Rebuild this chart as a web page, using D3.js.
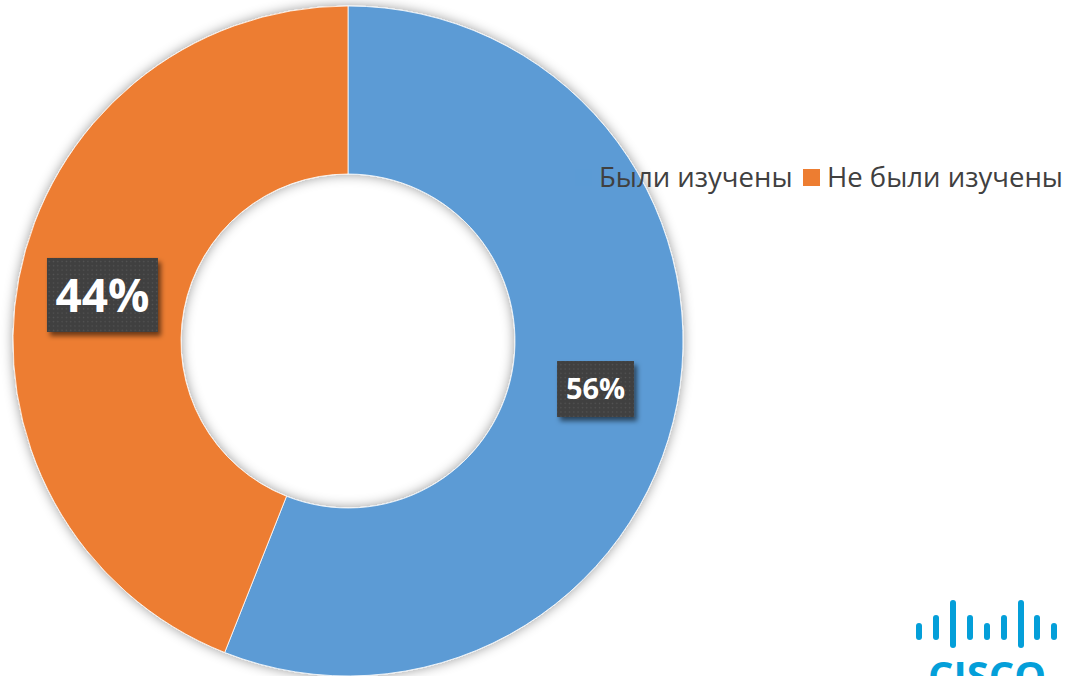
<!DOCTYPE html>
<html>
<head>
<meta charset="utf-8">
<script src="https://cdn.jsdelivr.net/npm/d3@7"></script>
<style>
  body { margin: 0; background: #fff; }
  svg { display: block; }
</style>
</head>
<body>
<div id="chart"></div>
<script>
// data
const categories = ["Были изучены", "Не были изучены"];
const values = [56, 44];
const colors = ["#5b9bd5", "#ed7d31"];
const labelSizes = [29, 46]; // the 44% label is drawn bigger in the original
const boxW = [77, 111], boxH = [56, 74];

const width = 1069, height = 676;
const cx = 348, cy = 341;
const outerR = 335, innerR = 167;

const svg = d3.select("#chart").append("svg")
    .attr("width", width)
    .attr("height", height)
    .attr("viewBox", [0, 0, width, height]);

const defs = svg.append("defs");

// soft grey glow round the ring
const glow = defs.append("filter").attr("id", "glow")
    .attr("x", "-10%").attr("y", "-10%").attr("width", "120%").attr("height", "120%");
glow.append("feDropShadow")
    .attr("dx", 0).attr("dy", 0).attr("stdDeviation", 6)
    .attr("flood-color", "#000").attr("flood-opacity", 0.4);

// dark dotted fill for the labels
const pat = defs.append("pattern").attr("id", "dots")
    .attr("patternUnits", "userSpaceOnUse").attr("width", 4.3).attr("height", 4.3);
pat.append("rect").attr("width", 4.3).attr("height", 4.3).attr("fill", "#3f3f3f");
pat.append("rect").attr("x", 1.5).attr("y", 1.5).attr("width", 1.4).attr("height", 1.4).attr("fill", "#555");

const boxShadow = defs.append("filter").attr("id", "boxshadow")
    .attr("x", "-20%").attr("y", "-20%").attr("width", "150%").attr("height", "160%");
boxShadow.append("feDropShadow")
    .attr("dx", 3).attr("dy", 4).attr("stdDeviation", 2.5)
    .attr("flood-color", "#000").attr("flood-opacity", 0.55);

const pie = d3.pie().sort(null).value(d => d)(values);
const arc = d3.arc().innerRadius(innerR).outerRadius(outerR);
const labelArc = d3.arc().innerRadius((innerR + outerR) / 2).outerRadius((innerR + outerR) / 2);

const g = svg.append("g").attr("transform", `translate(${cx},${cy})`);

g.append("g").attr("filter", "url(#glow)")
  .selectAll("path")
  .data(pie)
  .join("path")
    .attr("d", arc)
    .attr("fill", (d, i) => colors[i])
    .attr("stroke", "#fff")
    .attr("stroke-width", 0.8);

// legend, drawn over the ring like the original
const legend = svg.append("g")
    .attr("font-family", "'Open Sans', sans-serif")
    .attr("font-size", 27.5)
    .attr("fill", "#404040");

const legendX = [575, 803];
categories.forEach((c, i) => {
  legend.append("rect")
      .attr("x", legendX[i]).attr("y", 169)
      .attr("width", 17).attr("height", 17)
      .attr("fill", colors[i]);
  legend.append("text")
      .attr("x", legendX[i] + 24).attr("y", 187)
      .text(c);
});

// percent labels
const labels = g.append("g")
    .attr("font-family", "'Open Sans', sans-serif")
    .attr("font-weight", "bold")
    .attr("fill", "#fff")
    .attr("text-anchor", "middle");

pie.forEach((d, i) => {
  const [x, y] = labelArc.centroid(d);
  labels.append("rect")
      .attr("x", x - boxW[i] / 2 + 1)
      .attr("y", y - boxH[i] / 2 + 1)
      .attr("width", boxW[i])
      .attr("height", boxH[i])
      .attr("fill", "url(#dots)")
      .attr("filter", "url(#boxshadow)");
  labels.append("text")
      .attr("x", x + 1).attr("y", y + 1)
      .attr("dy", "0.36em")
      .attr("font-size", labelSizes[i])
      .text(values[i] + "%");
});

// cisco mark, bottom right
const barX = [919, 936, 953, 970, 987, 1004, 1021, 1037, 1054];
const barTop = [623, 615, 600, 615, 623, 615, 600, 615, 623];
const barBottom = [640, 640, 648, 640, 640, 640, 648, 640, 640];
const logo = svg.append("g").attr("fill", "#049fd9");
barX.forEach((x, i) => {
  logo.append("rect")
      .attr("x", x - 3).attr("y", barTop[i])
      .attr("width", 6).attr("height", barBottom[i] - barTop[i])
      .attr("rx", 3);
});
logo.append("text")
    .attr("x", 987).attr("y", 690)
    .attr("text-anchor", "middle")
    .attr("font-family", "'Open Sans', sans-serif")
    .attr("font-weight", "bold")
    .attr("font-size", 40)
    .text("CISCO");
</script>
</body>
</html>
